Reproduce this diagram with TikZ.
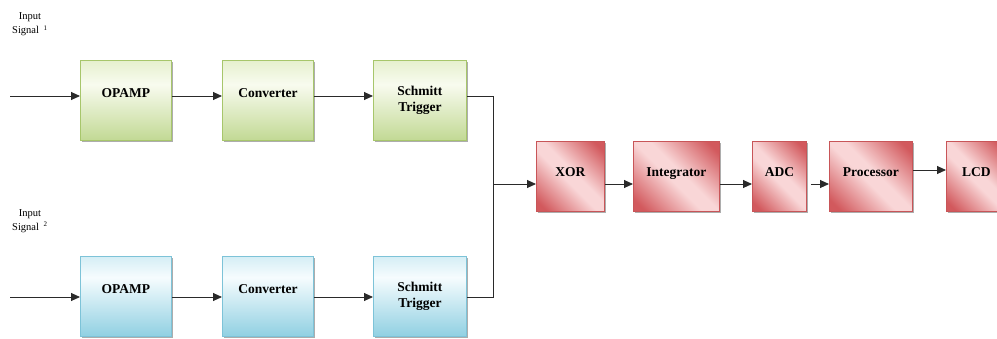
\documentclass[tikz,border=0pt]{standalone}
\usepackage{fontspec}
\setmainfont{Liberation Serif}
\usetikzlibrary{arrows.meta,shadows}

% palette
\definecolor{gline}{HTML}{A7C66B}
\definecolor{gbot}{HTML}{C2D994}
\definecolor{gwhite}{HTML}{F8FBEF}
\definecolor{gtop}{HTML}{E6F0CE}
\definecolor{bline}{HTML}{7DC3D8}
\definecolor{bbot}{HTML}{90D0E2}
\definecolor{bwhite}{HTML}{F6FCFE}
\definecolor{btop}{HTML}{D5EEF5}
\definecolor{rline}{HTML}{C85558}
\definecolor{rdark}{HTML}{D2595D}
\definecolor{rlight}{HTML}{F9D6D7}
\definecolor{wire}{HTML}{2A2A2A}

% fills: soft vertical fades for the input stages, diagonal band for the chain
\pgfdeclareverticalshading{greenfade}{100bp}{color(0bp)=(gbot); color(25bp)=(gbot); color(60bp)=(gwhite); color(75bp)=(gtop); color(100bp)=(gtop)}
\pgfdeclareverticalshading{bluefade}{100bp}{color(0bp)=(bbot); color(25bp)=(bbot); color(62bp)=(bwhite); color(75bp)=(btop); color(100bp)=(btop)}
\pgfdeclarehorizontalshading{redband}{100bp}{color(0bp)=(rdark); color(20bp)=(rdark); color(46bp)=(rlight); color(54bp)=(rlight); color(80bp)=(rdark); color(100bp)=(rdark)}

\tikzset{
  boxbase/.style={draw, line width=0.9pt, inner sep=0pt, anchor=north west,
    font=\fontsize{13.5}{16}\selectfont\bfseries, align=center,
    drop shadow={shadow xshift=2pt, shadow yshift=-2pt, fill=black!32, opacity=1}},
  gbox/.style={boxbase, draw=gline, shading=greenfade, minimum height=80pt},
  bbox/.style={boxbase, draw=bline, shading=bluefade, minimum height=80pt},
  rbox/.style={boxbase, draw=rline, shading=redband, shading angle=45, minimum height=70pt,
    text height=10pt, text depth=9pt},
  lifted/.style={text height=10pt, text depth=15pt},
  wireline/.style={draw=wire, line width=0.9pt},
  arr/.style={wireline, -{Triangle[length=9pt,width=8pt]}},
  inlabel/.style={font=\fontsize{10.5}{12}\selectfont, inner sep=0pt},
  cutdigit/.style={font=\fontsize{7}{8}\selectfont, inner sep=0pt, anchor=base west}
}

\begin{document}
\begin{tikzpicture}[x=1pt, y=-1pt]
  \clip (0,0) rectangle (997,338);

  % input captions
  \node[inlabel, anchor=base] (lin1) at (30,19) {Input};
  \node[inlabel, anchor=base west] (lsig1) at (12,33.5) {Signal};
  \node[inlabel, anchor=base] (lin2) at (30,216) {Input};
  \node[inlabel, anchor=base west] (lsig2) at (12,230) {Signal};
  % channel numbers, cut off by the caption frame
  \begin{scope}
    \clip (40,0) rectangle (46.5,338);
    \node[cutdigit] (num1) at (43.5,30) {1};
    \node[cutdigit] (num2) at (43.5,226.5) {2};
  \end{scope}

  % channel 1
  \node[gbox, lifted, minimum width=91pt] (op1) at (80,60) {OPAMP};
  \node[gbox, lifted, minimum width=91pt] (cv1) at (222,60) {Converter};
  \node[gbox, minimum width=93pt] (st1) at (373,60) {Schmitt\\Trigger};

  % channel 2
  \node[bbox, lifted, minimum width=91pt] (op2) at (80,256) {OPAMP};
  \node[bbox, lifted, minimum width=91pt] (cv2) at (222,256) {Converter};
  \node[bbox, minimum width=93pt] (st2) at (373,256) {Schmitt\\Trigger};

  % processing chain
  \node[rbox, minimum width=68pt] (xor) at (536,141) {XOR};
  \node[rbox, minimum width=86pt] (int) at (633,141) {Integrator};
  \node[rbox, minimum width=54pt] (adc) at (752,141) {ADC};
  \node[rbox, minimum width=83pt] (proc) at (829,141) {Processor};
  \node[rbox, minimum width=60pt] (lcd) at (946,141) {LCD};

  % wire levels and free ends
  \coordinate (row1) at (0,96);
  \coordinate (row2) at (0,297);
  \coordinate (rowc) at (0,184);
  \coordinate (rowp) at (0,170);
  \coordinate (src1) at (10,96);
  \coordinate (src2) at (10,297);
  \coordinate (join) at (493,184);

  % channel wiring
  \draw[arr] (src1) -- (op1.west |- row1);
  \draw[arr] (op1.east |- row1) -- (cv1.west |- row1);
  \draw[arr] (cv1.east |- row1) -- (st1.west |- row1);
  \draw[arr] (src2) -- (op2.west |- row2);
  \draw[arr] (op2.east |- row2) -- (cv2.west |- row2);
  \draw[arr] (cv2.east |- row2) -- (st2.west |- row2);

  % merge into XOR
  \draw[wireline] (st1.east |- row1) -| (join);
  \draw[wireline] (st2.east |- row2) -| (join);
  \draw[arr] (join) -- (xor.west |- rowc);

  % chain wiring
  \draw[arr] (xor.east |- rowc) -- (int.west |- rowc);
  \draw[arr] (int.east |- rowc) -- (adc.west |- rowc);
  \draw[arr, shorten <=4pt] (adc.east |- rowc) -- (proc.west |- rowc);
  \draw[arr] (proc.east |- rowp) -- (lcd.west |- rowp);
\end{tikzpicture}
\end{document}
